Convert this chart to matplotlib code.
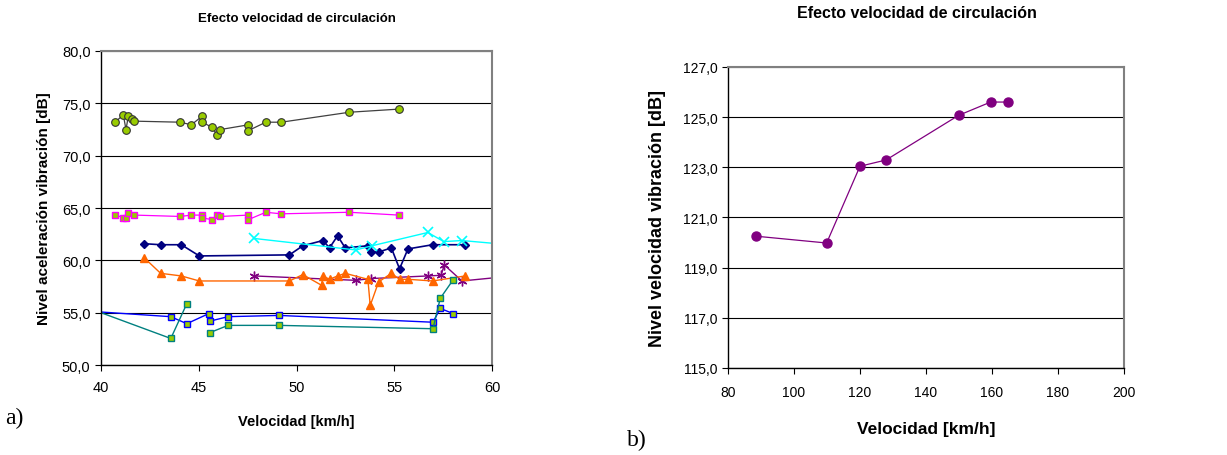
import numpy as np
import matplotlib.pyplot as plt
from matplotlib.ticker import FuncFormatter, MultipleLocator

plt.rcParams['font.family'] = ['Liberation Sans', 'DejaVu Sans']

# ---- chart a) data: velocidad [km/h] vs nivel aceleración [dB]
circ_x = [40.72, 41.14, 41.28, 41.40, 41.57, 41.71, 44.06, 44.62, 45.19, 45.19,
          45.68, 45.94, 46.11, 47.54, 47.54, 48.43, 49.22, 52.70, 55.24]
circ_y = [73.2, 73.9, 72.5, 73.8, 73.5, 73.3, 73.2, 72.95, 73.8, 73.2,
          72.7, 72.0, 72.5, 72.95, 72.4, 73.2, 73.2, 74.15, 74.45]

mag_x = [40.72, 41.14, 41.28, 41.40, 41.71, 44.06, 44.62, 45.19, 45.19,
         45.68, 45.94, 46.11, 47.54, 47.54, 48.43, 49.22, 52.70, 55.24]
mag_y = [64.33, 64.1, 64.1, 64.5, 64.33, 64.2, 64.33, 64.33, 64.05,
         63.9, 64.33, 64.2, 64.33, 63.9, 64.6, 64.45, 64.6, 64.33]

navy_x = [42.2, 43.05, 44.11, 45.03, 49.64, 50.32, 51.35, 51.69, 52.1, 52.49,
          53.65, 53.81, 54.2, 54.85, 55.27, 55.7, 56.96, 58.63]
navy_y = [61.6, 61.5, 61.5, 60.43, 60.53, 61.4, 61.9, 61.2, 62.35, 61.2,
          61.4, 60.8, 60.8, 61.2, 59.2, 61.1, 61.5, 61.5]

cyan_x = [47.83, 53.04, 53.86, 56.72, 57.53, 58.46, 61.5]
cyan_y = [62.1, 61.0, 61.4, 62.67, 61.8, 61.9, 61.4]

purp_x = [47.83, 53.04, 53.81, 56.72, 57.39, 57.56, 58.46, 61.5]
purp_y = [58.52, 58.1, 58.27, 58.52, 58.58, 59.57, 58.04, 58.6]

orng_x = [42.2, 43.05, 44.11, 45.03, 49.64, 50.32, 51.28, 51.35, 51.69, 52.1,
          52.49, 53.65, 53.77, 54.2, 54.85, 55.27, 55.7, 56.96, 58.63]
orng_y = [60.27, 58.77, 58.52, 58.04, 58.04, 58.65, 57.63, 58.52, 58.2, 58.52,
          58.77, 58.2, 55.7, 57.95, 58.77, 58.2, 58.2, 58.04, 58.52]

blue_x = [39.0, 43.57, 44.39, 45.51, 45.56, 46.5, 49.11, 56.98, 57.35, 58.02]
blue_y = [55.2, 54.63, 53.96, 54.92, 54.2, 54.63, 54.75, 54.1, 55.42, 54.92]

teal_x = [39.0, 43.57, 44.39, np.nan, 45.56, 46.5, 49.11, 56.98, 57.35, 58.02]
teal_y = [55.7, 52.55, 55.87, np.nan, 53.1, 53.8, 53.8, 53.48, 56.38, 58.17]

# ---- chart b) data
vel_b = [88.6, 109.9, 120.0, 127.9, 149.9, 159.6, 164.8]
niv_b = [120.25, 119.98, 123.04, 123.29, 125.07, 125.6, 125.6]

lime = '#99CC00'
comma = FuncFormatter(lambda v, p: f"{v:.1f}".replace('.', ','))

fig = plt.figure(figsize=(12.27, 4.56), dpi=100)
ax1 = fig.add_axes([0.0823, 0.197, 0.3187, 0.689])
ax2 = fig.add_axes([0.5933, 0.191, 0.3227, 0.660])


def style(ax):
    ax.spines['top'].set_color('#808080')
    ax.spines['right'].set_color('#808080')
    ax.spines['top'].set_linewidth(1.5)
    ax.spines['right'].set_linewidth(1.5)
    ax.spines['left'].set_linewidth(1.0)
    ax.spines['bottom'].set_linewidth(1.0)
    ax.tick_params(direction='out', length=4, width=0.8)
    ax.yaxis.set_major_formatter(comma)
    ax.grid(axis='y', color='black', lw=0.8)
    ax.set_axisbelow(True)


# a)
ax1.plot(circ_x, circ_y, '-', color='#404040', lw=0.9, marker='o', ms=5.5,
         mfc=lime, mec='#333333', mew=0.8)
ax1.plot(mag_x, mag_y, '-', color='#FF00FF', lw=0.9, marker='s', ms=4.5,
         mfc=lime, mec='#FF00FF', mew=1.0)
ax1.plot(navy_x, navy_y, '-', color='#000080', lw=1.2, marker='D', ms=4.5,
         mfc='#000080', mec='#000080')
ax1.plot(cyan_x, cyan_y, '-', color='#00FFFF', lw=1.0, marker='x', ms=7,
         mec='#00FFFF', mew=1.2)
ax1.plot(purp_x, purp_y, '-', color='#800080', lw=1.0, marker=(6, 2, 0), ms=7,
         mec='#800080', mew=1.0)
ax1.plot(orng_x, orng_y, '-', color='#FF6600', lw=1.0, marker='^', ms=6,
         mfc='#FF6600', mec='#FF6600')
ax1.plot(blue_x, blue_y, '-', color='#0000FF', lw=1.0, marker='s', ms=4.5,
         mfc=lime, mec='#0000FF', mew=1.0)
ax1.plot(teal_x, teal_y, '-', color='#008080', lw=1.0, marker='s', ms=4.5,
         mfc=lime, mec='#008080', mew=1.0)
ax1.set_xlim(40, 60)
ax1.set_ylim(50, 80)
ax1.xaxis.set_major_locator(MultipleLocator(5))
ax1.yaxis.set_major_locator(MultipleLocator(5))
style(ax1)
ax1.tick_params(labelsize=10.5)
ax1.tick_params(axis='x', pad=7)
ax1.set_xlabel('Velocidad [km/h]', fontsize=10.5, fontweight='bold', labelpad=14)
ax1.set_ylabel('Nivel aceleración vibración [dB]', fontsize=11, fontweight='bold', labelpad=8)
fig.text(0.242, 1 - 19 / 456, 'Efecto velocidad de circulación', fontsize=9.5,
         fontweight='bold', ha='center', va='center')

# b)
ax2.plot(vel_b, niv_b, '-', color='#800080', lw=0.9, marker='o', ms=6.5,
         mfc='#800080', mec='#800080')
ax2.set_xlim(80, 200)
ax2.set_ylim(115, 127)
ax2.xaxis.set_major_locator(MultipleLocator(20))
ax2.set_yticks(np.arange(115, 128, 2))
style(ax2)
ax2.tick_params(labelsize=10)
ax2.tick_params(axis='x', pad=8)
ax2.set_xlabel('Velocidad [km/h]', fontsize=12.5, fontweight='bold', labelpad=16)
ax2.set_ylabel('Nivel velocidad vibración [dB]', fontsize=13, fontweight='bold', labelpad=12)
fig.text(0.747, 1 - 14 / 456, 'Efecto velocidad de circulación', fontsize=11.5,
         fontweight='bold', ha='center', va='center')

fig.text(0.004, 1 - 418 / 456, 'a)', family='Liberation Serif', fontsize=17, va='center')
fig.text(0.511, 1 - 440 / 456, 'b)', family='Liberation Serif', fontsize=17, va='center')

fig.savefig('out.png', dpi=100)
